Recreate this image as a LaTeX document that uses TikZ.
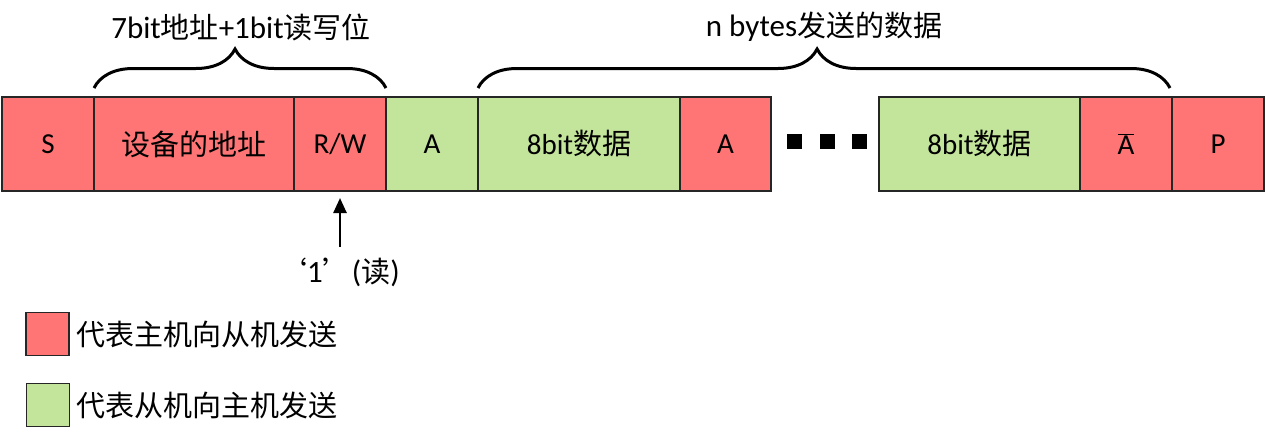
\documentclass[tikz,border=0pt]{standalone}
\usepackage{fontspec}
\setmainfont{Carlito}
\newfontfamily\cjkfont{Noto Sans CJK SC}
\usetikzlibrary{arrows.meta,decorations.pathreplacing}
\definecolor{cMst}{RGB}{255,117,117}
\definecolor{cSlv}{RGB}{195,228,155}
\newcommand{\zh}[1]{{\fontsize{29}{34}\selectfont\cjkfont #1}}

\begin{document}
\begin{tikzpicture}[x=1pt, y=-1pt, every node/.style={inner sep=0pt}]
  \tikzset{
    fld/.style={draw=black!85, line width=1.4pt, minimum height=94pt,
      font=\fontsize{29}{34}\selectfont},
    mst/.style={fld, fill=cMst},
    slv/.style={fld, fill=cSlv},
    brc/.style={decorate, line width=3pt,
      decoration={brace, amplitude=39pt, aspect=#1}},
    lbl/.style={font=\fontsize{31}{36}\selectfont},
    key/.style={draw=black!85, line width=1.2pt, minimum size=43pt},
    dot/.style={fill=black, minimum size=15pt}
  }
  \useasboundingbox (0,0) rectangle (1265,434);
  % address byte
  \node[mst, minimum width=92pt] (s) at (48,144) {S};
  \node[mst, minimum width=200pt] (addr) at (194,144) {\zh{设备的地址}};
  \node[mst, minimum width=92pt] (rw) at (340,144) {R/W};
  \node[slv, minimum width=92pt] (ack0) at (432,144) {A};
  % first data byte
  \node[slv, minimum width=202pt] (dat1) at (579,144) {8bit\zh{数据}};
  \node[mst, minimum width=91pt] (ack1) at (725.5,144) {A};
  % dots
  \node[dot] (d1) at (794,141.5) {};
  \node[dot] (d2) at (827,141.5) {};
  \node[dot] (d3) at (859,141.5) {};
  % last data byte
  \node[slv, minimum width=201pt] (datn) at (979.5,144) {8bit\zh{数据}};
  \node[mst, minimum width=92pt] (nack) at (1126,144) {$\overline{\mbox{A}}$};
  \node[mst, minimum width=92pt] (p) at (1218,144) {P};
  % braces
  \coordinate (b1a) at (94,88);
  \coordinate (b1b) at (386,88);
  \coordinate (b2a) at (478,88);
  \coordinate (b2b) at (1170,88);
  \draw[brc=0.483] (b1a) -- (b1b);
  \draw[brc=0.49] (b2a) -- (b2b);
  \node[lbl] (lbl1) at (241,27) {7bit\zh{地址}+1bit\zh{读写位}};
  \node[lbl] (lbl2) at (824,27) {n bytes\zh{发送的数据}};
  % read bit
  \coordinate (tail) at (340,247);
  \coordinate (tip) at (340,198);
  \draw[line width=2.5pt, -{Triangle[length=15pt,width=13pt]}] (tail) -- (tip);
  \node[lbl] (rd) at (339,272) {\zh{‘}1\zh{’}(\zh{读})};
  % legend
  \node[key, fill=cMst] (kM) at (47.5,334) {};
  \node[key, fill=cSlv] (kS) at (48,405) {};
  \node[anchor=west] (tM) at (76,334) {\zh{代表主机向从机发送}};
  \node[anchor=west] (tS) at (76,405) {\zh{代表从机向主机发送}};
\end{tikzpicture}
\end{document}
